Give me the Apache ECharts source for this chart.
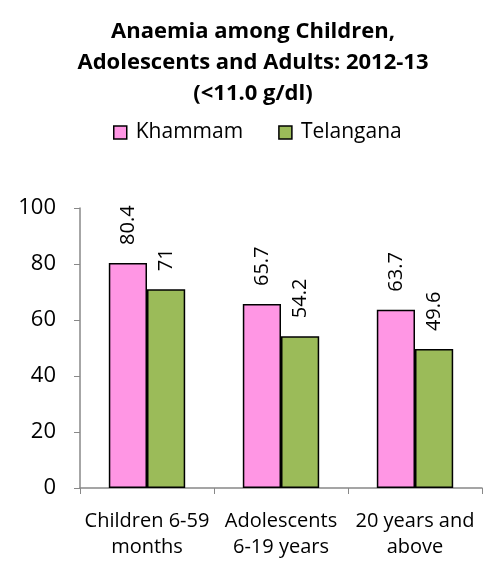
<!DOCTYPE html>
<html><head><meta charset="utf-8">
<script src="https://cdn.jsdelivr.net/npm/echarts@6/dist/echarts.min.js"></script>
<style>html,body{margin:0;padding:0;background:#fff}#c{width:491px;height:563px}</style>
</head><body><div id="c"></div>
<script>
const categories = ['Children 6-59\nmonths', 'Adolescents\n6-19 years', '20 years and\nabove'];
const khammam = [80.4, 65.7, 63.7];
const telangana = [71, 54.2, 49.6];
const yTicks = [0, 20, 40, 60, 80, 100];

const FONT = 'Open Sans';
const chart = echarts.init(document.getElementById('c'), null, {renderer: 'canvas'});
const lbl = {
  show: true, position: 'top', rotate: 90, distance: 18,
  align: 'left', verticalAlign: 'middle',
  fontFamily: FONT, fontSize: 20, color: '#000'
};
chart.setOption({
  animation: false,
  title: {
    text: 'Anaemia among Children,\nAdolescents and Adults: 2012-13\n(<11.0 g/dl)',
    left: 248, top: 11, textAlign: 'center',
    textStyle: {fontFamily: FONT, fontWeight: 'bold', fontSize: 22, lineHeight: 31, color: '#000'}
  },
  legend: {
    top: 117, left: 108, itemWidth: 13, itemHeight: 13, itemGap: 35,
    icon: 'rect',
    itemStyle: {borderColor: '#000', borderWidth: 1.5},
    textStyle: {fontFamily: FONT, fontSize: 21, color: '#000', padding: [0, 0, 0, 4]},
    data: ['Khammam', 'Telangana']
  },
  grid: {left: 80, right: 9, top: 208, bottom: 75, containLabel: false},
  xAxis: {
    type: 'category', data: categories,
    axisLine: {lineStyle: {color: '#888', width: 1.5}},
    axisTick: {show: true, length: 6, lineStyle: {color: '#888'}},
    axisLabel: {fontFamily: FONT, fontSize: 20, color: '#000', lineHeight: 26, margin: 20, interval: 0}
  },
  yAxis: {
    type: 'value', min: 0, max: 100, interval: 20,
    axisLine: {show: true, lineStyle: {color: '#888', width: 1.5}},
    axisTick: {show: true, length: 6, lineStyle: {color: '#888'}},
    splitLine: {show: false},
    axisLabel: {fontFamily: FONT, fontSize: 22, color: '#000', margin: 24,
      formatter: v => yTicks.includes(v) ? String(v) : ''}
  },
  series: [
    {name: 'Khammam', type: 'bar', data: khammam, barGap: '0%', barCategoryGap: '43%',
      itemStyle: {color: '#FF96E4', borderColor: '#000', borderWidth: 1.5}, label: lbl},
    {name: 'Telangana', type: 'bar', data: telangana,
      itemStyle: {color: '#9BBB59', borderColor: '#000', borderWidth: 1.5}, label: lbl}
  ]
});
</script></body></html>
